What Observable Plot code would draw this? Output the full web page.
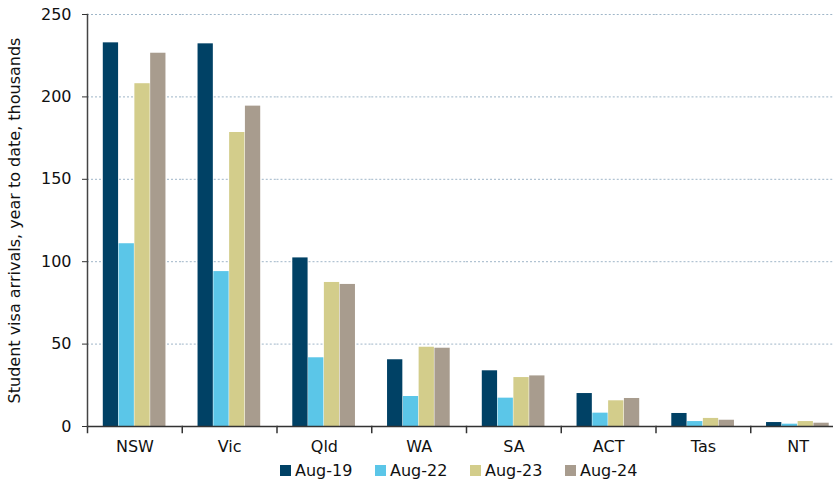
<!DOCTYPE html>
<html>
<head>
<meta charset="utf-8">
<script src="https://cdn.jsdelivr.net/npm/d3@7"></script>
<script src="https://cdn.jsdelivr.net/npm/@observablehq/plot@0.6"></script>
<style>
  html, body { margin: 0; padding: 0; background: #fff; }
  body { width: 833px; height: 487px; overflow: hidden; font-family: "DejaVu Sans", Verdana, sans-serif; }
  #legend { display: flex; gap: 0; margin-left: 280px; margin-top: 3px; font-size: 16px; color: #111; }
  #legend .item { display: flex; align-items: center; width: 95px; }
  #legend .sw { width: 11px; height: 11px; margin-right: 4px; }
</style>
</head>
<body>
<div id="chart"></div>
<div id="legend"></div>
<script>
const states = ["NSW", "Vic", "Qld", "WA", "SA", "ACT", "Tas", "NT"];
const series = ["Aug-19", "Aug-22", "Aug-23", "Aug-24"];
const colors = ["#004165", "#5bc6e8", "#d3cd8b", "#a89c8e"];
const aug19 = [232.8, 232.2, 102.3, 40.5, 33.8, 20.0, 7.9, 2.4];
const aug22 = [110.9, 94.0, 41.7, 18.2, 17.2, 8.1, 3.0, 1.4];
const aug23 = [208.0, 178.4, 87.4, 48.1, 29.7, 15.6, 4.9, 3.0];
const aug24 = [226.5, 194.4, 86.2, 47.5, 30.7, 17.0, 3.8, 2.0];
const yTicks = [0, 50, 100, 150, 200, 250];
const yLabel = "Student visa arrivals, year to date, thousands";

const valuesBySeries = [aug19, aug22, aug23, aug24];
const data = [];
states.forEach((s, i) => series.forEach((k, j) => data.push({state: s, series: k, value: valuesBySeries[j][i]})));

const chart = Plot.plot({
  width: 833,
  height: 458,
  marginTop: 14,
  marginBottom: 32,
  marginLeft: 87,
  marginRight: 0,
  style: {fontFamily: "DejaVu Sans, Verdana, sans-serif", fontSize: "16px", color: "#111", background: "#fff"},
  fx: {domain: states, padding: 0, round: false, range: [87, 845], label: null},
  x: {domain: series, paddingInner: 0, paddingOuter: 1, round: false, axis: null},
  y: {domain: [0, 250], ticks: yTicks, label: null},
  color: {domain: series, range: colors},
  marks: [
    Plot.gridY(yTicks.filter(d => d > 0), {stroke: "#9fb6c8", strokeOpacity: 1, strokeDasharray: "2,2", strokeWidth: 1}),
    Plot.barY(data, {fx: "state", x: "series", y: "value", fill: "series", insetLeft: 0, insetRight: 0.5}),
    Plot.ruleY([0], {stroke: "#333", strokeWidth: 1.5}),
    Plot.frame({anchor: "left", insetTop: 412, insetBottom: -6, stroke: "#333", strokeWidth: 1.5}),
    Plot.frame({anchor: "left", facetAnchor: "left", stroke: "#444", strokeWidth: 1.5}),
    Plot.axisY({ticks: yTicks, tickSize: 5, tickPadding: 11, fontSize: 16, stroke: "#333",
      label: yLabel, labelAnchor: "center", labelArrow: "none", labelOffset: 79}),
    Plot.axisFx({anchor: "bottom", tickSize: 0, tickPadding: 14, fontSize: 16, label: null})
  ]
});
document.getElementById("chart").appendChild(chart);

const legend = d3.select("#legend");
series.forEach((s, i) => {
  const it = legend.append("div").attr("class", "item");
  it.append("div").attr("class", "sw").style("background", colors[i]);
  it.append("span").text(s);
});
</script>
</body>
</html>
